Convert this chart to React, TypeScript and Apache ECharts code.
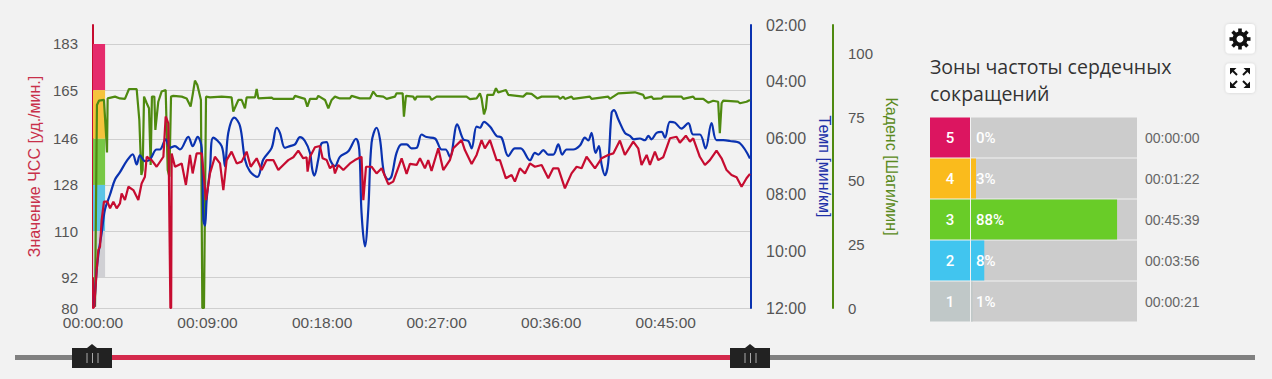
import React, { useEffect, useRef } from "react";
import * as echarts from "echarts";

// [minutes, bpm]
const heartRate: number[][] = [
  [0,80],[0.1,80.5],[0.29,94.8],[0.42,102.6],[0.55,103.9],[0.68,114.3],[0.86,121.5],[1.13,121.5],[1.34,118.9],[1.6,121.5],[1.86,118.9],[2.12,120.8],[2.25,124.7],[2.51,122.1],[2.78,127.3],[3.17,126],[3.56,122.1],[3.82,128.6],[4.08,131.2],[4.22,139],[4.61,137.7],[5,135.1],[5.53,139],[5.71,154.7],[5.92,152],[6.08,80],[6.14,80],[6.18,140.3],[6.44,135.1],[6.97,136.4],[7.3,128],[7.62,139.7],[7.83,132.5],[8.14,140.3],[8.54,140.3],[8.88,122.1],[9.19,132.5],[9.58,139],[9.98,136.4],[10.24,126],[10.5,137.7],[10.89,141],[11.29,136.4],[11.68,137.1],[12.07,141],[12.39,135.1],[12.86,138.4],[13.25,133.8],[13.64,137.7],[14.17,137.7],[14.56,133.8],
  [14.69,134.5],[14.95,135.8],[15.34,137.7],[15.74,138.8],[16.13,141.4],[16.52,138.4],[16.78,138.8],[16.86,133.2],[17.05,139],[17.44,142.7],[17.83,143.2],[18.04,138.4],[18.36,137.7],[18.62,134.5],[18.88,135.8],[19.01,132.5],[19.27,135.8],[19.67,133.8],[20.19,136.4],[20.58,137.7],[21.1,139],[21.24,122.1],[21.45,135.1],[21.89,135.1],[22.28,132.5],[22.68,134.5],[23.2,128.3],[23.59,129.3],[24.25,138.4],[24.64,132.3],[24.9,136.2],[25.43,135.8],[25.69,138.4],[26.08,134.5],[26.34,137.7],[26.6,133.5],[27.13,142.3],[27.52,133.8],[28.04,137.7],[28.31,142.3],[28.96,145.5],[29.22,141.6],[29.75,136.2],[30.14,139.7],[30.53,145.5],[30.79,142.3],[31.19,145.5],[31.71,137.7],[31.97,137.7],[32.44,130.6],[32.89,131.9],[33.15,129.3],[33.54,134.5],[33.94,132.5],[34.33,136.4],
  [34.72,135.1],[35.25,135.8],[35.77,130.6],[36.16,134.5],[36.56,134.5],[37.08,126.7],[37.6,132.5],[38,135.1],[38.39,134.5],[38.78,139],[39.44,134.5],[39.96,138.4],[40.48,139.7],[40.88,140.3],[41.4,145.3],[41.79,139.7],[42.45,144.9],[42.84,142.3],[43.1,135.8],[43.5,139.7],[43.76,135.8],[44.15,141],[44.41,137.7],[44.8,138.8],[45.33,146.2],[45.85,146.8],[46.11,144.5],[46.58,147.2],[46.9,144.9],[47.16,146.2],[47.68,139],[48.08,135.8],[48.47,137.7],[48.99,141.4],[49.39,138.4],[49.78,133.8],[50.17,131.9],[50.57,131],[50.96,127.3],[51.35,130.6],[51.62,132.3],
];

// [minutes, pace in min/km]
const pace: number[][] = [
  [0.1,11.95],[0.29,10.65],[0.47,9.94],[0.68,9.35],[0.94,8.52],[1.34,7.99],[1.73,7.46],[2.12,7.2],[2.64,6.81],[3.12,6.57],[3.43,6.93],[3.69,6.61],[4.08,6.81],[4.48,6.75],[5,6.4],[5.26,6.4],[5.71,6.04],[6.05,6.34],[6.44,6.28],[6.83,6.4],[7.49,5.95],[7.83,6.28],[8.22,5.95],[8.54,6.34],[8.67,8.88],[8.8,9.09],[8.93,8.17],[9.19,7.11],[9.45,5.98],[10.11,6.28],[10.37,6.99],[10.63,5.81],[11.1,5.27],[11.55,5.57],[11.94,6.75],[12.33,7.17],[12.91,7.37],[13.38,6.75],[14.04,6.34],[14.43,5.63],
  [14.69,5.81],[15.08,6.34],[15.48,6.28],[15.87,6.22],[16.26,5.96],[16.65,6.1],[17.05,6.52],[17.23,7.11],[17.39,7.32],[17.7,6.75],[17.96,6.18],[18.36,6.14],[18.62,6.75],[19.01,6.99],[19.4,6.66],[20.06,6.46],[20.66,6.02],[20.92,6.4],[21.1,8.64],[21.37,9.82],[21.63,8.52],[21.89,6.16],[22.28,5.63],[22.55,6.04],[22.86,7.22],[23.2,7.46],[23.46,7.34],[23.85,6.52],[24.25,6.22],[24.64,6.22],[25.03,6.36],[25.43,6.34],[25.82,5.87],[26.21,5.96],[26.87,6.01],[27.39,6.4],[27.7,6.4],[28.04,6.66],[28.62,5.51],[29.09,6.04],[29.49,6.1],[29.75,6.36],[30.14,5.59],[30.4,5.63],[30.72,5.42],[31.19,5.59],[31.71,5.92],[32.1,5.98],[32.63,6.63],[33.15,6.36],[33.6,6.36],[34.33,6.78],
  [34.72,6.52],[34.98,6.58],[35.38,6.42],[35.77,6.58],[36.16,6.58],[36.56,6.22],[36.87,6.58],[37.21,6.4],[37.73,6.4],[38.26,6.26],[38.65,5.98],[38.91,6.08],[39.17,5.81],[39.49,6.52],[39.75,6.28],[39.96,6.93],[40.22,7.31],[40.48,6.87],[40.75,5.1],[40.93,5.01],[41.27,5.33],[41.79,5.81],[42.19,5.92],[42.5,6.04],[42.97,6.01],[43.36,6.07],[43.63,5.92],[43.89,6.04],[44.28,5.81],[44.67,5.78],[44.94,5.98],[45.33,5.42],[45.72,5.45],[46.24,5.66],[46.77,5.47],[47.16,5.87],[47.68,5.87],[48.13,6.36],[48.6,5.47],[48.99,6.07],[49.52,6.07],[50.04,6.1],[50.83,6.18],[51.62,6.72],
];

// [minutes, steps/min]
const cadence: number[][] = [
  [0.16,0.5],[0.31,79.9],[0.47,81.6],[0.86,81.9],[1.02,68.8],[1.1,61.2],[1.15,82.5],[1.73,83.2],[2.12,82.5],[2.51,82.3],[2.83,86.2],[3.43,86.2],[3.64,74],[3.8,52.4],[3.9,54.3],[4.01,83.2],[4.22,80.6],[4.4,78.6],[4.53,56.3],[4.63,83.2],[4.82,83.2],[4.9,70.1],[5.13,81.2],[5.39,85.2],[5.71,85.8],[5.87,54.3],[6,51.7],[6.13,83.2],[6.31,83.5],[6.97,83.2],[7.36,82.5],[7.67,79.3],[7.83,83.9],[8.01,89.5],[8.2,87.8],[8.48,81.9],[8.59,0],[8.72,0],[8.88,83.2],[9.19,82.9],[10.11,83.2],[10.89,82.9],[11.02,77.3],[11.42,81.9],[11.68,81.9],[11.94,78.6],[12.07,82.9],[12.73,82.9],[12.86,86.2],[12.99,82.5],[14.04,82.8],[14.17,82.3],
  [14.69,82.3],[15.74,82.3],[15.87,83.5],[16.65,82.3],[16.84,79.3],[17.05,82.3],[17.57,82.3],[17.7,83.5],[18.23,81.9],[18.49,78.6],[18.75,81.9],[19.01,83.2],[19.4,82.5],[20.19,82.5],[20.32,83.5],[20.97,82.5],[21.76,82.5],[22.02,85.2],[22.28,83.5],[22.81,83.2],[23.07,82.3],[23.72,83.2],[23.85,84.5],[24.33,84.5],[24.43,75.3],[24.59,83.5],[25.16,83.2],[25.3,81.9],[25.43,83.2],[26.47,83.2],[26.6,81.9],[27,83.2],[29.35,83.2],[29.62,82.2],[30.14,82.5],[30.4,84.5],[30.53,82.5],[30.72,76.2],[30.87,78.6],[30.98,83.9],[31.45,83.9],[31.66,86.5],[31.84,84.8],[32.44,85.8],[32.63,83.9],[33.8,83.2],[34.07,84.5],[34.46,84.3],
  [34.91,82.5],[35.25,83.2],[36.56,83.2],[36.69,82.3],[36.95,83.2],[37.08,82.3],[37.6,83.2],[37.73,82.3],[39.04,83.2],[39.17,82.3],[40.48,83.2],[40.61,82.3],[41.27,84.5],[42.58,84.9],[43.23,83.9],[43.36,82.5],[43.89,83.2],[44.02,82.3],[44.67,82.5],[44.8,83.2],[46.24,83.2],[46.38,82.3],[47.16,83.2],[47.29,82.3],[47.95,82.3],[48.34,80.8],[48.73,81.6],[49.12,81.2],[49.25,68.8],[49.39,80.6],[49.52,81.6],[50.69,81.2],[50.83,80.6],[51.35,81.2],[51.62,81.9],
];

const hrTicks = [80, 92, 110, 128, 146, 165, 183];
const cadenceTicks = [0, 25, 50, 75, 100];
const zoneBands = [
  { from: 165, to: 183, color: "#e52b6c" },
  { from: 146, to: 165, color: "#f5c33c" },
  { from: 128, to: 146, color: "#78c846" },
  { from: 110, to: 128, color: "#5cc4e6" },
  { from: 92, to: 110, color: "#d0d0d4" },
];
const zoneNames = ["5", "4", "3", "2", "1"];
const zonePercents = [0, 3, 88, 8, 1];
const zoneTimes = ["00:00:00", "00:01:22", "00:45:39", "00:03:56", "00:00:21"];
const zoneColors = ["#dc1560", "#fabb1c", "#69cc28", "#41c5ef", "#c0c8c8"];

const RED = "#c60c30";
const BLUE = "#0a32b0";
const GREEN = "#4f8a10";
const LABEL = "#555555";
const FONT = "'Liberation Sans', Arial, sans-serif";

const pad = (n: number) => String(n).padStart(2, "0");

function sliderAndIcons(): any[] {
  const dark = "#222222";
  const handle = (x: number) => [
    { type: "rect", shape: { x, y: 348, width: 40, height: 20 }, style: { fill: dark }, z: 10 },
    { type: "polygon", shape: { points: [[x + 15, 348], [x + 20, 344], [x + 25, 348]] }, style: { fill: dark }, z: 10 },
    ...[15, 20.5, 26].map((d) => ({
      type: "line",
      shape: { x1: x + d, y1: 353, x2: x + d, y2: 363 },
      style: { stroke: "#aaaaaa", lineWidth: 1 },
      z: 11,
    })),
  ];
  const box = (y: number) => ({
    type: "rect",
    shape: { x: 1225.5, y, width: 29.5, height: 29.5, r: 4 },
    style: { fill: "#ffffff", shadowBlur: 3, shadowColor: "rgba(0,0,0,0.15)" },
    z: 5,
  });
  const teeth = Array.from({ length: 8 }, (_, i) => ({
    type: "rect",
    x: 1240,
    y: 39,
    rotation: (i * Math.PI) / 4,
    shape: { x: -1.8, y: -10.5, width: 3.6, height: 4 },
    style: { fill: "#111111" },
    z: 6,
  }));
  const arrow = (sx: number, sy: number) => {
    const cx = 1240 + sx * 10;
    const cy = 78 + sy * 10;
    return [
      { type: "polygon", shape: { points: [[cx, cy], [cx - sx * 6.5, cy], [cx, cy - sy * 6.5]] }, style: { fill: "#111111" }, z: 6 },
      { type: "line", shape: { x1: cx - sx * 3, y1: cy - sy * 3, x2: cx - sx * 7, y2: cy - sy * 7 }, style: { stroke: "#111111", lineWidth: 2 }, z: 6 },
    ];
  };
  return [
    { type: "rect", shape: { x: 15, y: 355, width: 1240, height: 5 }, style: { fill: "#808080" }, z: 8 },
    { type: "rect", shape: { x: 112, y: 355, width: 618, height: 5 }, style: { fill: "#d42a4c" }, z: 9 },
    ...handle(72),
    ...handle(730),
    box(24),
    box(63.5),
    ...teeth,
    { type: "ring", shape: { cx: 1240, cy: 39, r: 7.5, r0: 3.5 }, style: { fill: "#111111" }, z: 6 },
    ...arrow(-1, -1),
    ...arrow(1, -1),
    ...arrow(-1, 1),
    ...arrow(1, 1),
  ];
}

export default function App() {
  const ref = useRef<HTMLDivElement>(null);
  useEffect(() => {
    document.body.style.margin = "0";
    const chart = echarts.init(ref.current!, undefined, { renderer: "svg" });
    const lineBase = { type: "line", showSymbol: false, symbol: "none", xAxisIndex: 0, clip: true };
    chart.setOption({
      animation: false,
      backgroundColor: "#f2f2f2",
      textStyle: { fontFamily: FONT },
      title: {
        text: "Зоны частоты сердечных\nсокращений",
        left: 930,
        top: 53,
        padding: 0,
        textStyle: { fontFamily: "'Open Sans', sans-serif", fontSize: 19.5, fontWeight: "normal", color: "#333333", lineHeight: 27 },
      },
      grid: [
        { left: 93, right: 521, top: 25, height: 283 },
        { left: 930, width: 40, top: 117, height: 205 },
        { left: 971, width: 166, top: 117, height: 205 },
      ],
      xAxis: [
        {
          type: "value",
          gridIndex: 0,
          min: 0,
          max: 51.7,
          interval: 9,
          splitLine: { show: false },
          axisTick: { show: false },
          axisLine: { show: false },
          axisLabel: {
            color: LABEL,
            fontSize: 15.5,
            lineHeight: 12,
            margin: 8,
            showMaxLabel: false,
            formatter: (v: number) => `00:${pad(v)}:00`,
          },
        },
        { type: "value", gridIndex: 1, min: 0, max: 1, show: false },
        { type: "value", gridIndex: 2, min: 0, max: 100, show: false },
      ],
      yAxis: [
        {
          type: "value",
          gridIndex: 0,
          position: "left",
          min: 80,
          max: 190.4,
          name: "Значение ЧСС [уд./мин.]",
          nameLocation: "middle",
          nameRotate: 90,
          nameGap: 44,
          nameTextStyle: { color: "#c8304a", fontSize: 16 },
          axisLine: { show: true, lineStyle: { color: RED, width: 2 } },
          axisTick: { show: false, customValues: hrTicks },
          axisLabel: { color: LABEL, fontSize: 15, lineHeight: 12, margin: 15, customValues: hrTicks },
          splitLine: { show: true, lineStyle: { color: "#cfcfcf", width: 1 } },
        },
        {
          type: "value",
          gridIndex: 0,
          position: "right",
          inverse: true,
          min: 2,
          max: 12,
          interval: 2,
          name: "Темп [мин/км]",
          nameLocation: "middle",
          nameRotate: -90,
          nameGap: 60,
          nameTextStyle: { color: "#2030a8", fontSize: 16 },
          axisLine: { show: true, lineStyle: { color: BLUE, width: 2 } },
          axisTick: { show: false },
          axisLabel: { color: LABEL, fontSize: 16, margin: 15, formatter: (v: number) => `${pad(v)}:00` },
          splitLine: { show: false },
        },
        {
          type: "value",
          gridIndex: 0,
          position: "right",
          offset: 82,
          min: 0,
          max: 111.4,
          name: "Каденс [Шаги/мин]",
          nameLocation: "middle",
          nameRotate: -90,
          nameGap: 46,
          nameTextStyle: { color: "#5a8a20", fontSize: 16 },
          axisLine: { show: true, lineStyle: { color: GREEN, width: 2 } },
          axisTick: { show: false, customValues: cadenceTicks },
          axisLabel: { color: LABEL, fontSize: 15, margin: 15, customValues: cadenceTicks },
          splitLine: { show: false },
        },
        {
          type: "category",
          gridIndex: 1,
          inverse: true,
          data: zoneNames,
          show: false,
        },
        {
          type: "category",
          gridIndex: 2,
          inverse: true,
          position: "right",
          data: zoneTimes,
          axisLine: { show: false },
          axisTick: { show: false },
          splitLine: { show: false },
          axisLabel: { color: "#666666", fontSize: 14, margin: 8 },
        },
      ],
      series: [
        { ...lineBase, yAxisIndex: 2, data: cadence, lineStyle: { color: GREEN, width: 2.2 }, z: 3 },
        { ...lineBase, yAxisIndex: 1, data: pace, smooth: 0.35, lineStyle: { color: BLUE, width: 2.2 }, z: 4 },
        {
          ...lineBase,
          yAxisIndex: 0,
          data: heartRate,
          lineStyle: { color: RED, width: 2.2 },
          z: 5,
          markArea: {
            silent: true,
            z: 1,
            data: zoneBands.map((b) => [
              { xAxis: 0, yAxis: b.from, itemStyle: { color: b.color, opacity: 1 } },
              { xAxis: 0.95, yAxis: b.to },
            ]),
          },
        },
        {
          type: "bar",
          xAxisIndex: 1,
          yAxisIndex: 3,
          barWidth: 40,
          data: zoneNames.map((_, i) => ({ value: 1, itemStyle: { color: zoneColors[i] } })),
          label: {
            show: true,
            position: "inside",
            color: "#ffffff",
            fontFamily: "Roboto, sans-serif",
            fontSize: 15,
            fontWeight: 500,
            formatter: (p: any) => zoneNames[p.dataIndex],
          },
        },
        {
          type: "bar",
          xAxisIndex: 2,
          yAxisIndex: 4,
          barWidth: 40,
          showBackground: true,
          backgroundStyle: { color: "#cccccc" },
          data: zonePercents.map((v, i) => ({ value: v, itemStyle: { color: zoneColors[i] } })),
          barGap: "-100%",
        },
        {
          type: "bar",
          xAxisIndex: 2,
          yAxisIndex: 4,
          barWidth: 40,
          barGap: "-100%",
          itemStyle: { color: "transparent" },
          data: zonePercents.map(() => 100),
          label: {
            show: true,
            position: "insideLeft",
            distance: 5,
            color: "#ffffff",
            fontFamily: "Roboto, sans-serif",
            fontSize: 15,
            fontWeight: 500,
            formatter: (p: any) => `${zonePercents[p.dataIndex]}%`,
          },
          z: 6,
        },
      ],
      graphic: { elements: sliderAndIcons() },
    });
    return () => chart.dispose();
  }, []);
  return <div ref={ref} style={{ width: 1272, height: 379, background: "#f2f2f2" }} />;
}
